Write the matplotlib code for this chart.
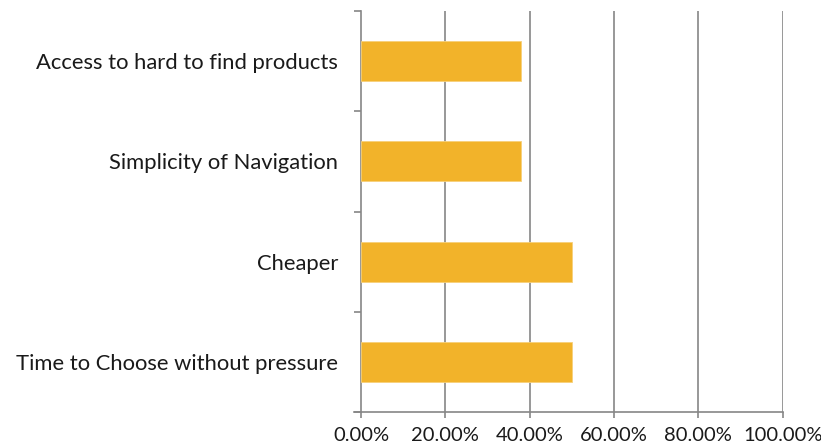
import matplotlib
matplotlib.use("Agg")
import matplotlib.pyplot as plt
from matplotlib.ticker import FixedLocator, FuncFormatter

categories = ["Time to Choose without pressure", "Cheaper", "Simplicity of Navigation",
              "Access to hard to find products"]
values = [0.50, 0.50, 0.38, 0.38]
xticks = [0.0, 0.2, 0.4, 0.6, 0.8, 1.0]

plt.rcParams['font.family'] = ['Lato', 'DejaVu Sans']
fig = plt.figure(figsize=(8.21, 4.47), dpi=100)
ax = fig.add_axes([361/821, 1-412/447, (782.7-361)/821, (412-11)/447])

grid_c = '#868686'
ax.barh(range(len(categories)), values, height=0.4, color='#F2B32A',
        edgecolor='#F7D07A', linewidth=0.6, zorder=3)
ax.set_xlim(0, 1.0)
ax.set_ylim(-0.5, len(categories) - 0.5)

ax.xaxis.set_major_locator(FixedLocator(xticks))
ax.xaxis.set_major_formatter(FuncFormatter(lambda v, p: f"{v*100:.2f}%"))
for x in xticks[1:]:
    ax.axvline(x, color=grid_c, lw=1.2, zorder=1)

ax.set_yticks(range(len(categories)))
ax.set_yticklabels(categories)
ax.set_yticks([i - 0.5 for i in range(len(categories) + 1)], minor=True)
ax.tick_params(axis='y', which='major', length=0, pad=16.5, labelsize=15.8, colors='#1a1a1a')
ax.tick_params(axis='y', which='minor', length=5, width=1.2, color=grid_c)
ax.tick_params(axis='x', which='major', length=4.5, width=1.2, color=grid_c,
               labelsize=14.5, labelcolor='#1a1a1a', pad=6)

for s in ['top', 'right']:
    ax.spines[s].set_visible(False)
ax.spines['left'].set_color(grid_c)
ax.spines['left'].set_linewidth(1.2)
ax.spines['bottom'].set_color(grid_c)
ax.spines['bottom'].set_linewidth(1.2)
ax.spines['bottom'].set_bounds(-0.017, 1.0)

fig.savefig("out.png", dpi=100)
